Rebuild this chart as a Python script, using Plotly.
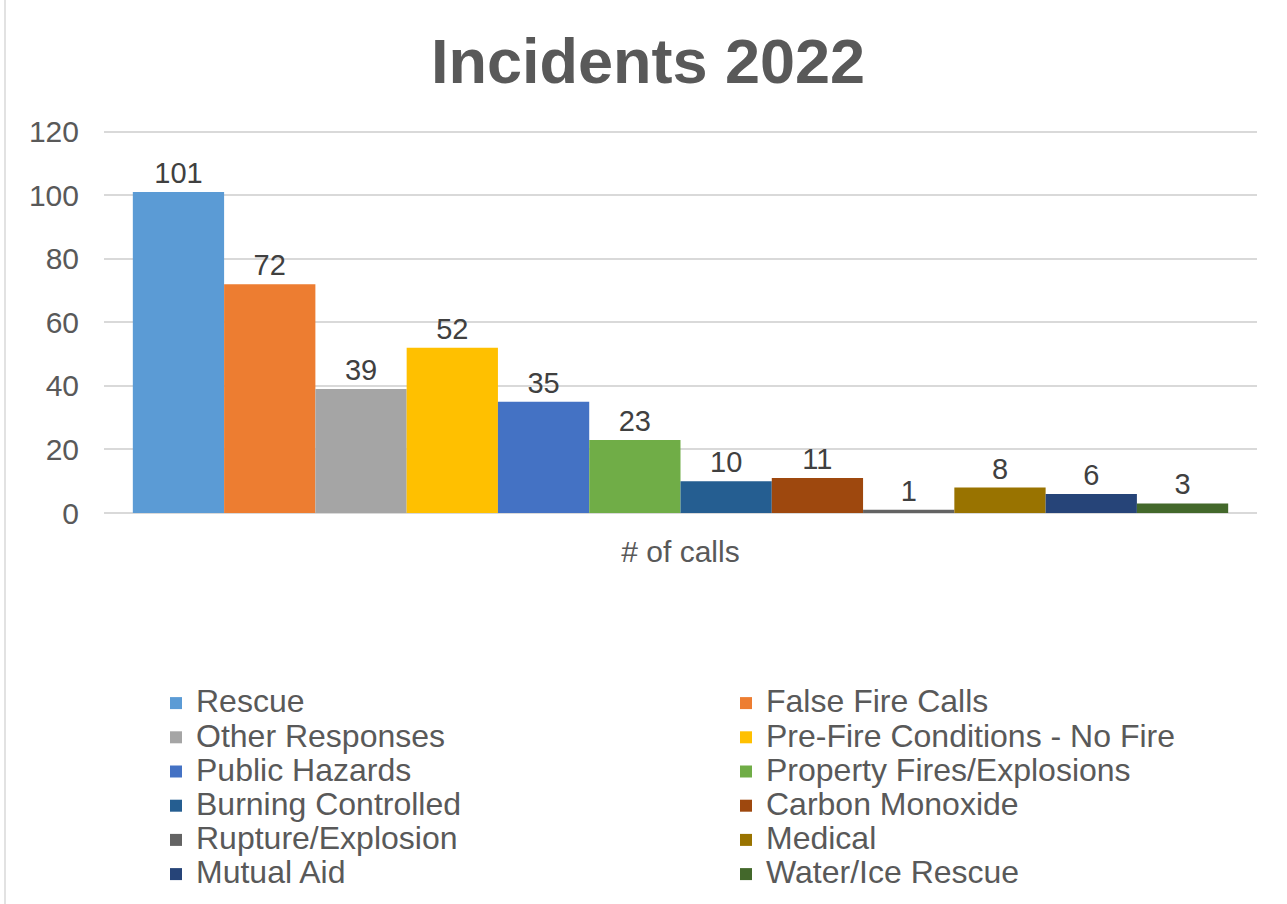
import plotly.graph_objects as go

# ---------------- Data ----------------
category = ["# of calls"]

series_names = [
    "Rescue", "False Fire Calls", "Other Responses", "Pre-Fire Conditions - No Fire",
    "Public Hazards", "Property Fires/Explosions", "Burning Controlled", "Carbon Monoxide",
    "Rupture/Explosion", "Medical", "Mutual Aid", "Water/Ice Rescue",
]
series_values = [101, 72, 39, 52, 35, 23, 10, 11, 1, 8, 6, 3]

series_colors = [
    "#5B9BD5", "#ED7D31", "#A5A5A5", "#FFC000",
    "#4472C4", "#70AD47", "#255E91", "#9E480E",
    "#636363", "#997300", "#264478", "#43682B",
]

y_ticks = [0, 20, 40, 60, 80, 100, 120]

FONT = "Liberation Sans, Arial, sans-serif"
GREY = "#595959"

fig = go.Figure()
for name, val, col in zip(series_names, series_values, series_colors):
    fig.add_trace(go.Bar(
        x=category,
        y=[val],
        # bigger legend text than the row spacing would normally allow
        name=f'<span style="font-size:32px">{name}</span>',
        marker=dict(color=col, line=dict(width=0)),
        text=[val],
        textposition="outside",
        textfont=dict(size=29, color="#404040", family=FONT),
        cliponaxis=False,
        hovertemplate=f"{name}: %{{y}}<extra></extra>",
    ))

fig.update_layout(
    width=1287,
    height=904,
    barmode="group",
    bargap=0.05,
    bargroupgap=0,
    plot_bgcolor="white",
    paper_bgcolor="white",
    font=dict(family=FONT, color=GREY),
    margin=dict(l=104, r=30, t=130, b=391),
    title=dict(
        text="<b>Incidents 2022</b>",
        font=dict(size=63, color=GREY, family=FONT),
        x=648 / 1287, xref="container", xanchor="center",
        y=1 - 61 / 904, yref="container", yanchor="middle",
    ),
    legend=dict(
        orientation="h",
        xref="container", yref="container",
        x=156 / 1287, xanchor="left",
        y=1 - 681 / 904, yanchor="top",
        entrywidth=525, entrywidthmode="pixels",
        font=dict(size=24, color=GREY, family=FONT),
        itemclick=False,
        bgcolor="rgba(0,0,0,0)",
    ),
    showlegend=True,
)

fig.update_yaxes(
    range=[0, 120.5],
    tickvals=y_ticks,
    showgrid=True, gridcolor="#D9D9D9", gridwidth=1.5,
    zeroline=True, zerolinecolor="#D9D9D9", zerolinewidth=2,
    showline=False, ticks="",
    ticklabelstandoff=24,
    tickfont=dict(size=30, color=GREY),
)
fig.update_xaxes(
    showgrid=False, showline=False, ticks="",
    ticklabelstandoff=18,
    tickfont=dict(size=30, color=GREY),
)

# outer chart border like the spreadsheet chart frame
fig.add_shape(
    type="rect", xref="paper", yref="paper",
    x0=(5 - 104) / 1153, x1=(1292 - 104) / 1153,
    y0=(513 - 910) / 381, y1=(513 - 2) / 381,
    line=dict(color="#D9D9D9", width=1.5),
    fillcolor="rgba(0,0,0,0)",
    layer="below",
)

# drop the browser's default page margin so the figure sits at the top-left corner
fig.write_html(
    "out.html",
    config={"displayModeBar": False},
    post_script="document.body.style.margin='0';",
)
